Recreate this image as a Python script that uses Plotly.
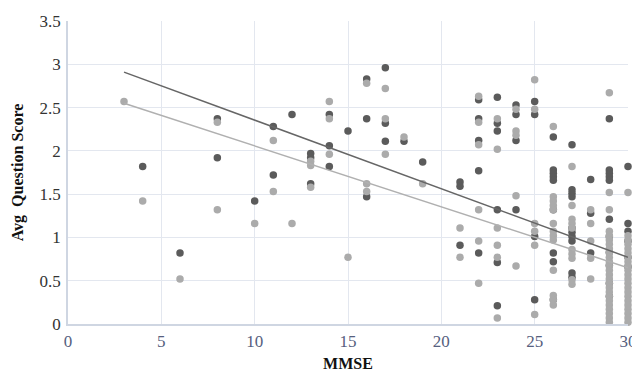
import plotly.graph_objects as go

# ---- data ----
dark_x = [4, 6, 8, 8, 10, 11, 11, 12, 13, 13, 13, 14, 14, 14, 15, 16, 16, 16,
          17, 17, 17, 18, 19, 21, 21, 21,
          22, 22, 22, 22, 22,
          23, 23, 23, 23, 23, 23,
          24, 24, 24, 24,
          25, 25, 25, 25,
          26, 26, 26, 26, 26, 26, 26, 26, 26,
          27, 27, 27, 27, 27, 27, 27, 27, 27, 27,
          28, 28, 28,
          29, 29, 29, 29, 29, 29, 29, 29, 29, 29, 29,
          30, 30, 30, 30, 30, 30]
dark_y = [1.82, 0.82, 2.37, 1.92, 1.42, 2.28, 1.72, 2.42, 1.97, 1.92, 1.62, 2.42, 2.06, 1.82, 2.23, 2.83, 2.37, 1.47,
          2.96, 2.32, 2.11, 2.11, 1.87, 1.64, 1.59, 0.91,
          2.59, 2.37, 2.12, 1.77, 0.82,
          2.62, 2.32, 2.23, 1.32, 0.71, 0.21,
          2.53, 2.42, 2.12, 1.32,
          2.57, 2.42, 1.01, 0.28,
          2.16, 1.78, 1.74, 1.70, 1.66, 1.32, 0.82, 0.72, 0.28,
          2.07, 1.55, 1.51, 1.47, 1.11, 1.06, 1.01, 0.96, 0.59, 0.54,
          1.67, 1.28, 0.82,
          2.37, 1.78, 1.74, 1.70, 1.66, 1.21, 1.01, 0.83, 0.68, 0.47, 0.32,
          1.82, 1.16, 1.07, 0.96, 0.77, 0.66]

light_x = [3, 4, 6, 8, 8, 10, 11, 11, 12, 13, 13, 13, 14, 14, 14, 15, 16, 16, 16,
           17, 17, 17, 18, 19, 21, 21,
           22, 22, 22, 22, 22, 22,
           23, 23, 23, 23, 23, 23,
           24, 24, 24, 24, 24,
           25, 25, 25, 25, 25, 25,
           26, 26, 26, 26, 26, 26, 26, 26, 26, 26, 26, 26, 26,
           27, 27, 27, 27, 27, 27, 27, 27, 27, 27,
           28, 28, 28, 28, 28,
           29, 29, 29, 29, 29, 29, 29, 29, 29, 29, 29, 29, 29, 29, 29, 29, 29, 29, 29, 29, 29, 29, 29, 29, 29,
           30, 30, 30, 30, 30, 30, 30, 30, 30, 30, 30, 30, 30, 30, 30, 30, 30, 30, 30, 30, 30, 30]
light_y = [2.57, 1.42, 0.52, 2.33, 1.32, 1.16, 2.12, 1.53, 1.16, 1.88, 1.83, 1.58, 2.57, 2.37, 1.96, 0.77, 2.78, 1.62, 1.53,
           2.72, 2.37, 1.96, 2.16, 1.62, 1.11, 0.77,
           2.63, 2.33, 2.07, 1.32, 0.96, 0.47,
           2.37, 2.02, 1.11, 0.91, 0.77, 0.07,
           2.48, 2.23, 2.18, 1.48, 0.67,
           2.82, 2.48, 1.16, 1.07, 0.91, 0.11,
           2.28, 1.47, 1.42, 1.37, 1.32, 1.16, 1.07, 1.02, 0.97, 0.62, 0.33, 0.28, 0.22,
           1.82, 1.37, 1.21, 1.16, 1.11, 0.86, 0.81, 0.76, 0.51, 0.46,
           1.32, 1.16, 0.96, 0.76, 0.52,
           2.67, 1.52, 1.32, 1.07, 1.02, 0.97, 0.92, 0.87, 0.82, 0.77, 0.72, 0.67, 0.62, 0.57, 0.52, 0.47, 0.42, 0.37, 0.32, 0.27, 0.22, 0.17, 0.12, 0.07, 0.02,
           1.52, 1.02, 0.97, 0.92, 0.87, 0.82, 0.77, 0.72, 0.67, 0.62, 0.57, 0.52, 0.47, 0.42, 0.37, 0.32, 0.27, 0.22, 0.17, 0.12, 0.07, 0.02]

trend_x = [3, 30]
dark_trend = [2.91, 0.77]
light_trend = [2.55, 0.65]

x_ticks = [0, 5, 10, 15, 20, 25, 30]
y_ticks = [0, 0.5, 1, 1.5, 2, 2.5, 3, 3.5]
y_tick_text = ["0", "0.5", "1", "1.5", "2", "2.5", "3", "3.5"]

DARK = "#5b5b5b"
LIGHT = "#ababab"
SERIF = "Liberation Serif, Times New Roman, serif"

fig = go.Figure()
fig.add_trace(go.Scatter(x=dark_x, y=dark_y, mode="markers",
                         marker=dict(size=7.5, color=DARK), showlegend=False, cliponaxis=False))
fig.add_trace(go.Scatter(x=light_x, y=light_y, mode="markers",
                         marker=dict(size=7.5, color=LIGHT), showlegend=False, cliponaxis=False))
fig.add_trace(go.Scatter(x=trend_x, y=dark_trend, mode="lines",
                         line=dict(color="#666666", width=1.5), showlegend=False))
fig.add_trace(go.Scatter(x=trend_x, y=light_trend, mode="lines",
                         line=dict(color="#b0b0b0", width=1.5), showlegend=False))

# the page body adds an 8px margin, so the figure is sized to fit the 640x372 window
fig.update_layout(
    width=632, height=364,
    margin=dict(l=60, r=12, t=13, b=48),
    paper_bgcolor="white", plot_bgcolor="white",
    font=dict(family=SERIF),
)
fig.update_xaxes(
    range=[0, 30], tickvals=x_ticks, showgrid=True, gridcolor="#e3e7ef", gridwidth=1,
    zeroline=False, showline=True, linecolor="#cfd6e2", linewidth=2, automargin=False,
    tickfont=dict(family=SERIF, size=17, color="#56607e"), ticklabelstandoff=1,
    title=dict(text="<b>MMSE</b>", font=dict(family=SERIF, size=16, color="#111111"), standoff=16),
)
fig.update_yaxes(
    range=[0, 3.5], tickvals=y_ticks, ticktext=y_tick_text, showgrid=True, gridcolor="#e3e7ef", gridwidth=1,
    zeroline=False, showline=True, linecolor="#cfd6e2", linewidth=1.5, automargin=False,
    tickfont=dict(family=SERIF, size=17, color="#333333"), ticklabelstandoff=2,
    title=dict(text="<b>Avg\u00a0 Question Score</b>", font=dict(family=SERIF, size=16, color="#111111"), standoff=12),
)

fig.write_html("out.html")
